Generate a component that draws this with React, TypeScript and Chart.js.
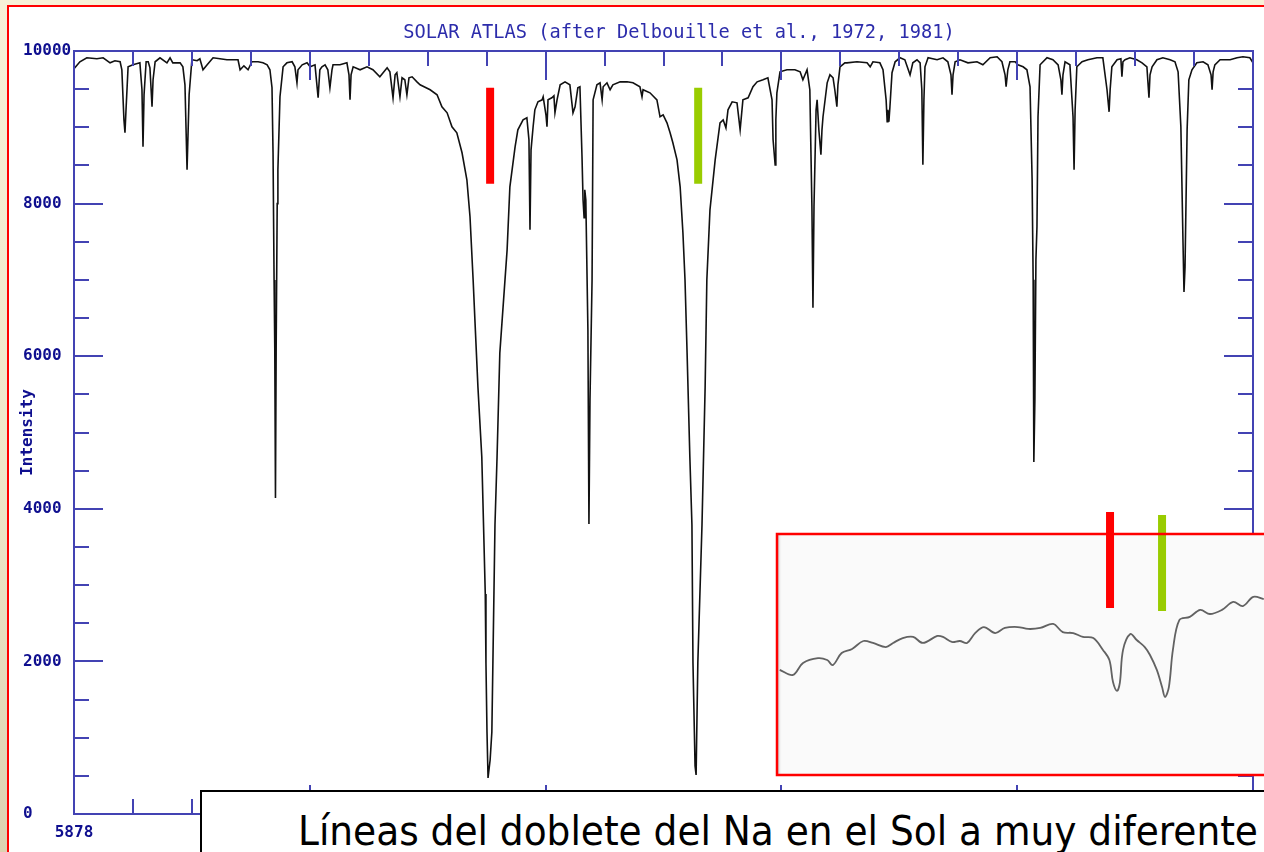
import React, { useEffect, useRef } from 'react';
import { Chart, registerables } from 'chart.js';

Chart.register(...registerables);

// ---------- texts ----------
const TITLE = 'SOLAR ATLAS (after Delbouille et al., 1972, 1981)';
const Y_TITLE = 'Intensity';
const CAPTION = 'Líneas del doblete del Na en el Sol a muy diferente';

// ---------- axes (Å, intensity) ----------
const X_MIN = 5878;
const X_MAX = 5912;
const X_MAJOR_STEP = 6.8;
const X_MINOR_STEP = 1.7;
const Y_MIN = 0;
const Y_MAX = 10000;
const Y_MAJOR_STEP = 2000;
const Y_MINOR_STEP = 500;

// ---------- main high-resolution spectrum ----------
const wavelength = [
  5878.00, 5878.17, 5878.37, 5878.66, 5878.84, 5879.04, 5879.18, 5879.33, 5879.38, 5879.44,
  5879.47, 5879.50, 5879.56, 5879.70, 5879.90, 5879.96, 5879.99, 5880.02, 5880.08, 5880.14,
  5880.19, 5880.25, 5880.28, 5880.34, 5880.48, 5880.68, 5880.77, 5880.85, 5881.06, 5881.14,
  5881.20, 5881.26, 5881.32, 5881.40, 5881.55, 5881.63, 5881.72, 5881.84, 5882.01, 5882.21,
  5882.41, 5882.59, 5882.73, 5882.79, 5882.90, 5883.02, 5883.13, 5883.31, 5883.45, 5883.57,
  5883.65, 5883.71, 5883.74, 5883.77, 5883.79, 5883.81, 5883.83, 5883.86, 5883.88, 5883.94,
  5884.03, 5884.14, 5884.29, 5884.37, 5884.43, 5884.46, 5884.58, 5884.72, 5884.81, 5884.95,
  5885.04, 5885.09, 5885.15, 5885.24, 5885.32, 5885.38, 5885.44, 5885.47, 5885.67, 5885.87,
  5885.93, 5885.96, 5885.99, 5886.05, 5886.25, 5886.45, 5886.62, 5886.82, 5887.03, 5887.11,
  5887.20, 5887.26, 5887.31, 5887.40, 5887.46, 5887.54, 5887.60, 5887.66, 5887.75, 5887.89,
  5887.98, 5888.27, 5888.47, 5888.61, 5888.76, 5888.90, 5889.04, 5889.19, 5889.33, 5889.42,
  5889.51, 5889.56, 5889.65, 5889.76, 5889.81, 5889.86, 5889.88, 5889.91, 5889.94, 5890.00,
  5890.05, 5890.08, 5890.14, 5890.20, 5890.28, 5890.49, 5890.57, 5890.72, 5890.80, 5890.95,
  5891.06, 5891.12, 5891.15, 5891.18, 5891.24, 5891.29, 5891.38, 5891.50, 5891.53, 5891.61,
  5891.64, 5891.67, 5891.78, 5891.84, 5891.87, 5891.93, 5892.02, 5892.16, 5892.30, 5892.39,
  5892.45, 5892.53, 5892.59, 5892.65, 5892.68, 5892.71, 5892.73, 5892.76, 5892.82, 5892.85,
  5892.88, 5892.94, 5892.97, 5893.08, 5893.17, 5893.23, 5893.26, 5893.37, 5893.46, 5893.54,
  5893.75, 5893.95, 5894.12, 5894.32, 5894.38, 5894.41, 5894.61, 5894.81, 5894.90, 5894.99,
  5895.10, 5895.19, 5895.27, 5895.39, 5895.48, 5895.56, 5895.62, 5895.68, 5895.76, 5895.82,
  5895.85, 5895.91, 5895.94, 5895.99, 5896.11, 5896.20, 5896.25, 5896.34, 5896.49, 5896.63,
  5896.72, 5896.80, 5896.86, 5896.98, 5897.12, 5897.21, 5897.29, 5897.44, 5897.58, 5897.70,
  5897.87, 5898.01, 5898.13, 5898.16, 5898.22, 5898.24, 5898.27, 5898.36, 5898.56, 5898.79,
  5898.94, 5899.02, 5899.14, 5899.22, 5899.28, 5899.31, 5899.34, 5899.40, 5899.43, 5899.48,
  5899.54, 5899.57, 5899.60, 5899.72, 5899.80, 5899.89, 5899.94, 5900.00, 5900.03, 5900.09,
  5900.23, 5900.29, 5900.58, 5900.87, 5900.96, 5901.04, 5901.24, 5901.33, 5901.42, 5901.45,
  5901.47, 5901.50, 5901.53, 5901.59, 5901.68, 5901.82, 5901.96, 5902.11, 5902.19, 5902.31,
  5902.40, 5902.45, 5902.48, 5902.51, 5902.54, 5902.63, 5902.89, 5903.06, 5903.20, 5903.29,
  5903.32, 5903.35, 5903.41, 5903.55, 5903.78, 5904.04, 5904.21, 5904.42, 5904.62, 5904.76,
  5904.85, 5904.88, 5904.93, 5904.99, 5905.14, 5905.22, 5905.37, 5905.48, 5905.57, 5905.63,
  5905.66, 5905.68, 5905.71, 5905.74, 5905.77, 5905.80, 5905.86, 5906.06, 5906.23, 5906.38,
  5906.46, 5906.49, 5906.52, 5906.58, 5906.72, 5906.81, 5906.84, 5906.87, 5906.92, 5907.07,
  5907.24, 5907.50, 5907.67, 5907.79, 5907.85, 5907.88, 5907.93, 5908.08, 5908.19, 5908.22,
  5908.25, 5908.31, 5908.45, 5908.65, 5908.80, 5908.94, 5909.00, 5909.03, 5909.09, 5909.23,
  5909.40, 5909.61, 5909.75, 5909.84, 5909.92, 5909.98, 5910.01, 5910.04, 5910.10, 5910.15,
  5910.24, 5910.38, 5910.56, 5910.70, 5910.79, 5910.82, 5910.85, 5910.90, 5911.05, 5911.34,
  5911.54, 5911.71, 5911.91, 5912.00,
];

const intensity = [
  9767, 9859, 9911, 9898, 9911, 9845, 9872, 9859, 9754, 9098,
  8928, 9229, 9793, 9819, 9845, 9492, 8744, 9426, 9859, 9859,
  9780, 9269, 9623, 9859, 9911, 9845, 9911, 9845, 9845, 9793,
  9557, 8443, 9426, 9885, 9872, 9898, 9754, 9819, 9911, 9898,
  9885, 9885, 9885, 9754, 9806, 9754, 9859, 9859, 9845, 9819,
  9754, 9520, 8666, 7000, 6109, 4143, 6109, 8000, 8443, 9400,
  9793, 9845, 9859, 9793, 9583, 9754, 9819, 9845, 9793, 9819,
  9387, 9754, 9793, 9819, 9754, 9518, 9754, 9819, 9819, 9845,
  9688, 9360, 9688, 9793, 9754, 9793, 9754, 9662, 9780, 9727,
  9387, 9688, 9715, 9400, 9649, 9623, 9426, 9649, 9662, 9596,
  9557, 9492, 9426, 9269, 9190, 9007, 8928, 8666, 8312, 7827,
  7001, 6489, 5585, 4680, 3789, 2884, 1980, 1075, 472, 708,
  1075, 1980, 3789, 4680, 6044, 7394, 8220, 8744, 8967, 9098,
  9125, 8836, 7656, 8705, 9007, 9229, 9334, 9360, 9400, 9164,
  9007, 9360, 9387, 9413, 9190, 9360, 9557, 9596, 9557, 9190,
  9269, 9518, 9531, 8613, 8050, 7814, 8181, 8050, 6345, 3802,
  5428, 7001, 9360, 9557, 9583, 9360, 9531, 9583, 9492, 9557,
  9596, 9596, 9583, 9531, 9400, 9492, 9452, 9360, 9138, 9164,
  9059, 8928, 8797, 8574, 8220, 7617, 7001, 6044, 4680, 3789,
  1980, 629, 511, 1980, 3789, 5585, 7001, 7918, 8574, 9059,
  9098, 8993, 9229, 9334, 9321, 8967, 9360, 9387, 9531, 9596,
  9623, 9649, 9360, 8836, 8508, 9098, 9452, 9727, 9754, 9754,
  9727, 9623, 9754, 9492, 7958, 6634, 7958, 9229, 9360, 8967,
  8640, 8967, 9138, 9583, 9688, 9649, 9492, 9269, 9557, 9793,
  9845, 9845, 9859, 9845, 9793, 9859, 9845, 9754, 9360, 9072,
  9229, 9072, 9269, 9715, 9859, 9911, 9885, 9688, 9845, 9885,
  9845, 9492, 8508, 9360, 9793, 9911, 9885, 9911, 9859, 9688,
  9426, 9688, 9859, 9885, 9845, 9859, 9819, 9911, 9924, 9859,
  9688, 9531, 9754, 9859, 9859, 9819, 9793, 9754, 9531, 8312,
  7001, 4615, 5428, 7263, 7696, 9138, 9819, 9911, 9885, 9819,
  9623, 9426, 9688, 9859, 9819, 9138, 8443, 9229, 9793, 9859,
  9885, 9911, 9911, 9492, 9203, 9492, 9793, 9885, 9898, 9662,
  9859, 9885, 9911, 9885, 9845, 9793, 9387, 9688, 9793, 9885,
  9911, 9885, 9859, 9727, 9007, 7525, 6843, 7171, 8967, 9623,
  9754, 9845, 9859, 9819, 9688, 9492, 9727, 9819, 9885, 9885,
  9911, 9924, 9911, 9845,
];

// Na D markers on the main atlas (Å, intensity range)
const markerWavelengths = [5890.0, 5896.0];
const markerTop = 9518;
const markerBottom = 8259;

// ---------- inset: low-resolution spectrum (Å, relative intensity) ----------
const INSET_X_MIN = 5847.66;
const INSET_X_MAX = 5908.23;
const INSET_Y_MIN = 0;
const INSET_Y_MAX = 1;

const insetWavelength = [
  5848.0, 5849.65, 5850.9, 5852.76, 5853.9, 5854.6, 5855.7, 5857.0, 5858.4, 5859.6,
  5861.2, 5862.1, 5863.3, 5864.6, 5865.8, 5867.6, 5868.3, 5869.4, 5870.4, 5871.3,
  5872.3, 5873.4, 5874.8, 5876.0, 5877.6, 5878.9, 5880.4, 5882.0, 5883.2, 5884.5,
  5885.7, 5887.0, 5888.2, 5889.0, 5889.45, 5889.95, 5890.3, 5890.7, 5891.6, 5892.4,
  5893.4, 5894.05, 5894.9, 5895.55, 5895.92, 5896.4, 5896.9, 5897.7, 5899.0, 5900.3,
  5901.5, 5903.0, 5904.4, 5905.6, 5906.9, 5908.2,
];
const insetIntensity = [
  0.436, 0.415, 0.465, 0.485, 0.477, 0.456, 0.506, 0.523, 0.556, 0.548,
  0.531, 0.548, 0.568, 0.573, 0.548, 0.577, 0.573, 0.552, 0.556, 0.548,
  0.589, 0.614, 0.589, 0.610, 0.614, 0.606, 0.610, 0.627, 0.593, 0.589,
  0.573, 0.568, 0.519, 0.477, 0.386, 0.349, 0.382, 0.519, 0.585, 0.560,
  0.531, 0.498, 0.436, 0.365, 0.324, 0.365, 0.519, 0.643, 0.656, 0.685,
  0.668, 0.685, 0.718, 0.701, 0.739, 0.730,
];
const insetMarkerWavelengths = [5889.08, 5895.55];
const insetMarkerTop = [1.091, 1.079];
const insetMarkerBottom = [0.693, 0.680];

// ---------- styles ----------
const MARKER_COLORS = ['#ff0000', '#99cc00'];
const AXIS_COLOR = '#4343b3';
const LABEL_COLOR = '#0f0f8f';
const TITLE_COLOR = '#2c2cab';
const MONO = '"DejaVu Sans Mono", "Liberation Mono", monospace';

const frameTicksPlugin = {
  id: 'frameTicks',
  afterDatasetsDraw(chart: any) {
    const { ctx, chartArea: a } = chart;
    const xs = chart.scales.x;
    const ys = chart.scales.y;
    ctx.save();
    ctx.strokeStyle = AXIS_COLOR;
    ctx.lineWidth = 2;
    ctx.lineCap = 'butt';
    ctx.strokeRect(a.left, a.top, a.right - a.left, a.bottom - a.top);
    ctx.beginPath();
    const nx = Math.round((X_MAX - X_MIN) / X_MINOR_STEP);
    const perMajorX = Math.round(X_MAJOR_STEP / X_MINOR_STEP);
    for (let i = 0; i <= nx; i++) {
      const p = Math.round(xs.getPixelForValue(X_MIN + i * X_MINOR_STEP));
      const len = i % perMajorX === 0 ? 29 : 15;
      ctx.moveTo(p, a.top);
      ctx.lineTo(p, a.top + len);
      ctx.moveTo(p, a.bottom);
      ctx.lineTo(p, a.bottom - len);
    }
    const ny = Math.round((Y_MAX - Y_MIN) / Y_MINOR_STEP);
    const perMajorY = Math.round(Y_MAJOR_STEP / Y_MINOR_STEP);
    for (let i = 0; i <= ny; i++) {
      const p = Math.round(ys.getPixelForValue(Y_MIN + i * Y_MINOR_STEP));
      const len = i % perMajorY === 0 ? 29 : 15;
      ctx.moveTo(a.left, p);
      ctx.lineTo(a.left + len, p);
      ctx.moveTo(a.right, p);
      ctx.lineTo(a.right - len, p);
    }
    ctx.stroke();
    ctx.restore();
  },
};

const textsPlugin = {
  id: 'texts',
  afterDraw(chart: any) {
    const { ctx, chartArea: a } = chart;
    ctx.save();
    ctx.fillStyle = TITLE_COLOR;
    ctx.font = `18.7px ${MONO}`;
    ctx.textAlign = 'center';
    ctx.textBaseline = 'middle';
    ctx.fillText(TITLE, a.left + 605, a.top - 18);
    ctx.fillStyle = LABEL_COLOR;
    ctx.font = `bold 16px ${MONO}`;
    ctx.translate(a.left - 46, (a.top + a.bottom) / 2);
    ctx.rotate(-Math.PI / 2);
    ctx.fillText(Y_TITLE, 0, 0);
    ctx.restore();
  },
};

function MainChart() {
  const ref = useRef<HTMLCanvasElement>(null);
  useEffect(() => {
    const spectrum = wavelength.map((w, i) => ({ x: w, y: intensity[i] }));
    const markers = markerWavelengths.map((w, i) => ({
      data: [
        { x: w, y: markerTop },
        { x: w, y: markerBottom },
      ],
      borderColor: MARKER_COLORS[i],
      borderWidth: 8,
      borderCapStyle: 'butt',
      pointRadius: 0,
      order: 0,
    }));
    const chart = new Chart(ref.current as HTMLCanvasElement, {
      type: 'line',
      data: {
        datasets: [
          ...markers,
          {
            data: spectrum,
            borderColor: '#111111',
            borderWidth: 1.6,
            pointRadius: 0,
            tension: 0,
            order: 1,
          },
        ] as any,
      },
      options: {
        animation: false,
        responsive: false,
        events: [],
        layout: { padding: { left: 23, top: 51, right: 11, bottom: 0 }, autoPadding: false } as any,
        plugins: { legend: { display: false }, tooltip: { enabled: false }, title: { display: false } },
        scales: {
          x: {
            type: 'linear',
            min: X_MIN,
            max: X_MAX,
            grid: { display: false, drawTicks: false },
            border: { display: false },
            ticks: {
              stepSize: X_MAJOR_STEP,
              autoSkip: false,
              maxRotation: 0,
              padding: 9,
              color: LABEL_COLOR,
              font: { family: MONO, size: 16, weight: 'bold' },
              callback: (v: any) => String(Math.round(Number(v) * 10) / 10),
            },
            afterFit: (s: any) => {
              s.height = 38;
              s.paddingLeft = 0;
              s.paddingRight = 0;
            },
          },
          y: {
            type: 'linear',
            min: Y_MIN,
            max: Y_MAX,
            grid: { display: false, drawTicks: false },
            border: { display: false },
            ticks: {
              stepSize: Y_MAJOR_STEP,
              crossAlign: 'far',
              padding: 0,
              color: LABEL_COLOR,
              font: { family: MONO, size: 16, weight: 'bold' },
              callback: (v: any) => String(v),
            },
            afterFit: (s: any) => {
              s.width = 51;
              s.paddingTop = 0;
              s.paddingBottom = 0;
            },
          },
        },
      } as any,
      plugins: [frameTicksPlugin, textsPlugin],
    });
    return () => chart.destroy();
  }, []);
  return (
    <canvas
      ref={ref}
      width={1264}
      height={852}
      style={{ position: 'absolute', left: 0, top: 0, width: 1264, height: 852 }}
    />
  );
}

const insetFramePlugin = {
  id: 'insetFrame',
  beforeDatasetsDraw(chart: any) {
    const { ctx, chartArea: a } = chart;
    ctx.save();
    ctx.fillStyle = '#fafafa';
    ctx.fillRect(a.left, a.top, a.right - a.left + 20, a.bottom - a.top);
    const g = ctx.createLinearGradient(a.left, 0, a.left + 5, 0);
    g.addColorStop(0, 'rgba(120,120,120,0.6)');
    g.addColorStop(1, 'rgba(250,250,250,0)');
    ctx.fillStyle = g;
    ctx.fillRect(a.left, a.top, 5, a.bottom - a.top);
    ctx.restore();
  },
  afterDatasetsDraw(chart: any) {
    const { ctx, chartArea: a } = chart;
    ctx.save();
    ctx.strokeStyle = '#ff0000';
    ctx.lineWidth = 2.5;
    ctx.strokeRect(a.left, a.top, a.right - a.left + 20, a.bottom - a.top);
    ctx.restore();
  },
};

function InsetChart() {
  const ref = useRef<HTMLCanvasElement>(null);
  useEffect(() => {
    const spectrum = insetWavelength.map((w, i) => ({ x: w, y: insetIntensity[i] }));
    const markers = insetMarkerWavelengths.map((w, i) => ({
      data: [
        { x: w, y: insetMarkerTop[i] },
        { x: w, y: insetMarkerBottom[i] },
      ],
      borderColor: MARKER_COLORS[i],
      borderWidth: 8,
      borderCapStyle: 'butt',
      pointRadius: 0,
      clip: false,
      order: 0,
    }));
    const chart = new Chart(ref.current as HTMLCanvasElement, {
      type: 'line',
      data: {
        datasets: [
          ...markers,
          {
            data: spectrum,
            borderColor: 'rgba(70,70,70,0.85)',
            borderWidth: 1.8,
            pointRadius: 0,
            tension: 0.35,
            order: 1,
          },
        ] as any,
      },
      options: {
        animation: false,
        responsive: false,
        events: [],
        layout: { padding: { left: 2, top: 29, right: 0, bottom: 2 }, autoPadding: false } as any,
        plugins: { legend: { display: false }, tooltip: { enabled: false } },
        scales: {
          x: { type: 'linear', min: INSET_X_MIN, max: INSET_X_MAX, display: false },
          y: { type: 'linear', min: INSET_Y_MIN, max: INSET_Y_MAX, display: false },
        },
      } as any,
      plugins: [insetFramePlugin],
    });
    return () => chart.destroy();
  }, []);
  return (
    <canvas
      ref={ref}
      width={489}
      height={272}
      style={{ position: 'absolute', left: 775, top: 505, width: 489, height: 272 }}
    />
  );
}

export default function App() {
  return (
    <div
      style={{
        position: 'fixed',
        left: 0,
        top: 0,
        width: 1264,
        height: 852,
        overflow: 'hidden',
        background: 'linear-gradient(180deg, #f7f1d8 0%, #efe7ca 55%, #ddd2b1 100%)',
      }}
    >
      <div
        style={{
          position: 'absolute',
          left: 7,
          top: 5,
          width: 1300,
          height: 900,
          borderLeft: '2px solid #ff0000',
          borderTop: '2px solid #ff0000',
          background: '#ffffff',
        }}
      />
      <MainChart />
      <InsetChart />
      <div
        style={{
          position: 'absolute',
          left: 200,
          top: 790,
          width: 1100,
          height: 100,
          border: '2px solid #000000',
          background: '#ffffff',
        }}
      />
      <div
        style={{
          position: 'absolute',
          left: 298,
          top: 810,
          whiteSpace: 'nowrap',
          fontFamily: '"DejaVu Sans Condensed", "DejaVu Sans", sans-serif',
          fontStretch: 'condensed',
          fontSize: 41.7,
          lineHeight: 1,
          color: '#000000',
        }}
      >
        {CAPTION}
      </div>
    </div>
  );
}
